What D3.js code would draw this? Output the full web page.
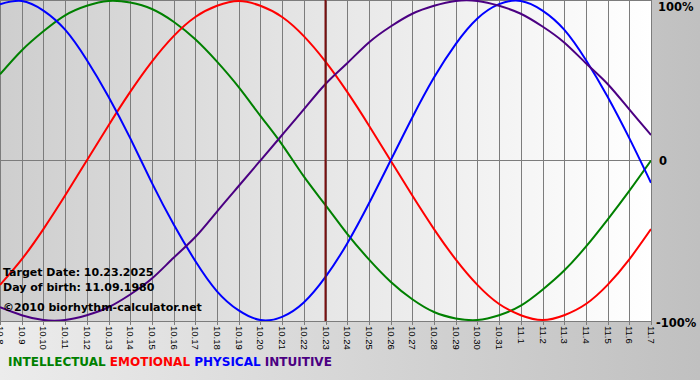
<!DOCTYPE html>
<html>
<head>
<meta charset="utf-8">
<script src="https://cdn.jsdelivr.net/npm/d3@7"></script>
<style>
  html, body { margin: 0; padding: 0; background: #d8d8d8; }
  svg { display: block; }
</style>
</head>
<body>
<svg id="chart" width="700" height="380"></svg>
<script>
// day labels along the bottom
var days = ["10.8","10.9","10.10","10.11","10.12","10.13","10.14","10.15","10.16","10.17",
  "10.18","10.19","10.20","10.21","10.22","10.23","10.24","10.25","10.26","10.27",
  "10.28","10.29","10.30","10.31","11.1","11.2","11.3","11.4","11.5","11.6","11.7"];

// rhythm values per day (-1 .. 1)
var intellectual = [0.54,0.69,0.81,0.91,0.97,1.00,0.99,0.95,0.87,0.76,0.62,0.46,0.28,0.10,-0.10,-0.28,
  -0.46,-0.62,-0.76,-0.87,-0.95,-0.99,-1.00,-0.97,-0.91,-0.81,-0.69,-0.54,-0.37,-0.19,0.00];
var emotional = [-0.78,-0.62,-0.43,-0.22,0.00,0.22,0.43,0.62,0.78,0.90,0.97,1.00,0.97,0.90,0.78,0.62,
  0.43,0.22,0.00,-0.22,-0.43,-0.62,-0.78,-0.90,-0.97,-1.00,-0.97,-0.90,-0.78,-0.62,-0.43];
var physical = [0.98,1.00,0.94,0.82,0.63,0.40,0.14,-0.14,-0.40,-0.63,-0.82,-0.94,-1.00,-0.98,-0.89,-0.73,
  -0.52,-0.27,0.00,0.27,0.52,0.73,0.89,0.98,1.00,0.94,0.82,0.63,0.40,0.14,-0.14];
var intuitive = [-0.92,-0.97,-1.00,-1.00,-0.97,-0.92,-0.84,-0.74,-0.61,-0.48,-0.32,-0.16,0.00,0.16,0.32,0.48,
  0.61,0.74,0.84,0.92,0.97,1.00,1.00,0.97,0.92,0.84,0.74,0.61,0.48,0.32,0.16];

var targetDay = "10.23";
var yTicks = [1, 0, -1];
var infoLines = ["Target Date: 10.23.2025", "Day of birth: 11.09.1980", "\u00a92010 biorhythm-calculator.net"];

var series = [
  {name: "INTELLECTUAL", values: intellectual, color: "#008000"},
  {name: "EMOTIONAL", values: emotional, color: "#ff0000"},
  {name: "PHYSICAL", values: physical, color: "#0000ff"},
  {name: "INTUITIVE", values: intuitive, color: "#4b0082"}
];

var svg = d3.select("#chart"),
    plotW = 651, plotH = 321;

var defs = svg.append("defs");
var bgGrad = defs.append("linearGradient").attr("id", "bgGrad");
bgGrad.append("stop").attr("offset", "0%").attr("stop-color", "#ececec");
bgGrad.append("stop").attr("offset", "100%").attr("stop-color", "#c0c0c0");
var plotGrad = defs.append("linearGradient").attr("id", "plotGrad");
plotGrad.append("stop").attr("offset", "0%").attr("stop-color", "#cecece");
plotGrad.append("stop").attr("offset", "100%").attr("stop-color", "#ffffff");
defs.append("clipPath").attr("id", "clip")
  .append("rect").attr("width", plotW).attr("height", plotH);

svg.append("rect").attr("width", 700).attr("height", 380).attr("fill", "url(#bgGrad)");
svg.append("rect").attr("width", plotW).attr("height", plotH).attr("fill", "url(#plotGrad)");

var x = d3.scalePoint().domain(days).range([0, plotW]),
    y = d3.scaleLinear().domain([-1, 1]).range([320, 1]);

var g = svg.append("g");

// vertical grid
g.selectAll(".vgrid").data(days).enter().append("line")
  .attr("x1", function(d) { return Math.round(x(d)) + 0.5; })
  .attr("x2", function(d) { return Math.round(x(d)) + 0.5; })
  .attr("y1", 0).attr("y2", plotH + 4)
  .attr("stroke", "#7c7c7c").attr("stroke-width", 1);

// zero line, top and bottom border
[160.5, 0.5, plotH + 0.5].forEach(function(v) {
  g.append("line").attr("x1", 0).attr("x2", plotW).attr("y1", v).attr("y2", v)
    .attr("stroke", "#7c7c7c").attr("stroke-width", 1);
});

// x labels, rotated
g.selectAll(".xlab").data(days).enter().append("text")
  .attr("transform", function(d) { return "translate(" + (x(d) - 3) + "," + (plotH + 5) + ") rotate(90)"; })
  .attr("font-family", "Liberation Sans, Arial, sans-serif")
  .attr("font-size", 9.5)
  .attr("fill", "#000")
  .text(function(d) { return d; });

// curves
var line = d3.line()
  .curve(d3.curveNatural)
  .x(function(d, i) { return x(days[i]); })
  .y(function(d) { return y(d); });

var curves = g.append("g").attr("clip-path", "url(#clip)");
curves.selectAll("path").data(series).enter().append("path")
  .attr("d", function(s) { return line(s.values); })
  .attr("fill", "none")
  .attr("stroke", function(s) { return s.color; })
  .attr("stroke-width", 2);

// target date marker
g.append("line")
  .attr("x1", x(targetDay)).attr("x2", x(targetDay))
  .attr("y1", 0).attr("y2", plotH)
  .attr("stroke", "#7a1010").attr("stroke-width", 2);

// y labels on the right
var yLab = {"1": "100%", "0": "0", "-1": "-100%"};
g.selectAll(".ylab").data(yTicks).enter().append("text")
  .attr("x", function(d) { return d === 0 ? 659 : (d > 0 ? 658 : 656); })
  .attr("y", function(d) { return d > 0 ? 11 : (d === 0 ? 165 : 327); })
  .attr("font-family", "DejaVu Sans, sans-serif")
  .attr("font-weight", "bold")
  .attr("font-size", 11.5)
  .attr("fill", "#000")
  .text(function(d) { return yLab[d]; });

// info text
g.selectAll(".info").data(infoLines).enter().append("text")
  .attr("x", 3)
  .attr("y", function(d, i) { return [276, 291, 311][i]; })
  .attr("font-family", "DejaVu Sans, sans-serif")
  .attr("font-weight", "bold")
  .attr("font-size", 11)
  .attr("fill", "#000")
  .text(function(d) { return d; });

// legend
var legend = svg.append("text")
  .attr("x", 8).attr("y", 366)
  .attr("font-family", "DejaVu Sans, sans-serif")
  .attr("font-weight", "bold")
  .attr("font-size", 12);
series.forEach(function(s, i) {
  legend.append("tspan")
    .attr("fill", s.color)
    .text((i ? " " : "") + s.name);
});
</script>
</body>
</html>
